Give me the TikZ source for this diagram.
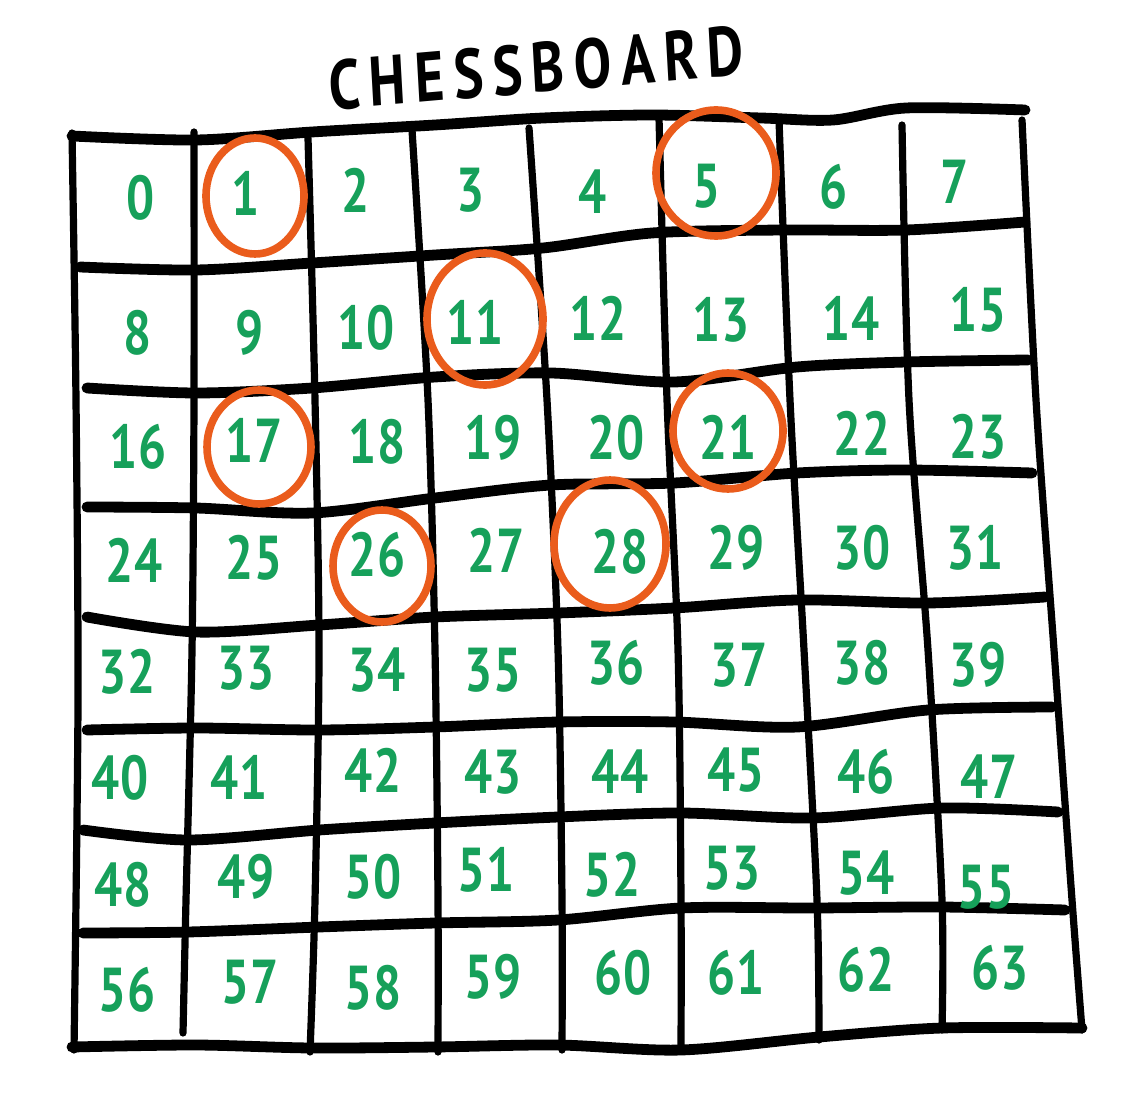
\documentclass[tikz,border=0pt]{standalone}
\usepackage{fontspec}
\setmainfont{PT Sans}
\definecolor{numgreen}{RGB}{22,160,90}
\definecolor{ringorange}{RGB}{234,92,28}
\begin{document}
\begin{tikzpicture}[x=0.5pt,y=-0.5pt,
  hline/.style={line width=5.4pt,line cap=round,line join=round},
  vline/.style={line width=3.6pt,line cap=round,line join=round},
  num/.style={text=numgreen,font=\fontsize{31}{31}\selectfont\bfseries,xscale=0.8,inner sep=0pt},
  ring/.style={draw=ringorange,line width=3.8pt},
  titletext/.style={font=\fontsize{35}{35}\selectfont\bfseries,xscale=0.8,inner sep=0pt}]
\useasboundingbox (0,0) rectangle (1138,1111);
% title
\node[titletext,rotate=4] (title) at (536,68) {C\,H\,E\,S\,S\,B\,O\,A\,R\,D};
% horizontal lines
\draw[hline] plot[smooth] coordinates {(72,136) (196,140) (312,132) (435,125) (543,118) (652,115) (761,118) (833,120) (906,108) (1025,110)};
\draw[hline] plot[smooth] coordinates {(80,267) (196,270) (312,263) (435,255) (543,248) (652,233) (783,230) (906,230) (1025,222)};
\draw[hline] plot[smooth] coordinates {(87,388) (196,393) (312,388) (435,377) (551,373) (674,382) (797,367) (906,362) (1028,360)};
\draw[hline] plot[smooth] coordinates {(87,507) (196,508) (312,513) (435,498) (551,485) (674,483) (797,473) (906,470) (1032,473)};
\draw[hline] plot[smooth] coordinates {(87,617) (196,632) (319,625) (435,617) (558,613) (674,608) (797,600) (928,603) (1045,597)};
\draw[hline] plot[smooth] coordinates {(87,730) (196,728) (319,730) (435,727) (558,722) (674,722) (797,727) (928,710) (1052,707)};
\draw[hline] plot[smooth] coordinates {(83,830) (188,840) (319,830) (435,823) (558,817) (681,813) (812,818) (942,808) (1058,812)};
\draw[hline] plot[smooth] coordinates {(83,933) (188,932) (319,927) (435,923) (558,920) (681,908) (812,908) (942,907) (1065,910)};
\draw[hline] plot[smooth] coordinates {(72,1047) (196,1045) (312,1048) (435,1047) (558,1045) (681,1050) (819,1037) (942,1028) (1082,1028)};
% vertical lines
\draw[vline] plot[smooth] coordinates {(72,133) (76,400) (78,700) (74,1050)};
\draw[vline] plot[smooth] coordinates {(194,132) (194,400) (192,650) (186,900) (183,1033)};
\draw[vline] plot[smooth] coordinates {(308,138) (315,400) (319,650) (315,900) (310,1052)};
\draw[vline] plot[smooth] coordinates {(412,130) (428,400) (435,650) (438,900) (438,1052)};
\draw[vline] plot[smooth] coordinates {(529,128) (547,400) (558,650) (562,900) (562,1050)};
\draw[vline] plot[smooth] coordinates {(659,118) (667,400) (678,650) (681,900) (681,1050)};
\draw[vline] plot[smooth] coordinates {(779,120) (790,400) (804,650) (817,900) (819,1040)};
\draw[vline] plot[smooth] coordinates {(902,125) (909,400) (928,650) (942,900) (942,1030)};
\draw[vline] plot[smooth] coordinates {(1022,120) (1036,400) (1054,650) (1072,900) (1082,1030)};
% numbers
\foreach \n/\x/\y in {0/141/198,1/246/193,2/356/190,3/471/190,4/593/192,5/707/186,6/834/187,7/955/182,
  8/138/333,9/250/333,10/366/328,11/475/322,12/598/318,13/721/320,14/851/318,15/978/310,
  16/138/447,17/254/440,18/377/442,19/493/438,20/616/438,21/728/437,22/862/433,23/978/437,
  24/134/560,25/254/558,26/377/555,27/496/550,28/620/552,29/736/548,30/862/548,31/975/548,
  32/127/672,33/246/668,34/377/670,35/493/670,36/616/663,37/739/665,38/862/663,39/978/665,
  40/120/778,41/239/777,42/373/770,43/493/772,44/620/772,45/736/770,46/866/772,47/989/777,
  48/123/885,49/246/877,50/373/877,51/486/870,52/612/875,53/732/868,54/866/873,55/986/887,
  56/127/990,57/250/982,58/373/988,59/493/977,60/623/973,61/736/973,62/866/970,63/1000/968}
  \node[num] (n\n) at (\x,\y) {\n};
% rings
\draw[ring] (255,196) ellipse [x radius=24.5pt,y radius=29pt];
\draw[ring] (716,173) ellipse [x radius=30pt,y radius=31.5pt];
\draw[ring] (485,319) ellipse [x radius=29pt,y radius=33pt];
\draw[ring] (259,447) ellipse [x radius=26pt,y radius=28.5pt];
\draw[ring] (728,431) ellipse [x radius=27.5pt,y radius=29pt];
\draw[ring] (382,566) ellipse [x radius=24.5pt,y radius=28pt];
\draw[ring] (610,544) ellipse [x radius=28pt,y radius=32pt];
\end{tikzpicture}
\end{document}
